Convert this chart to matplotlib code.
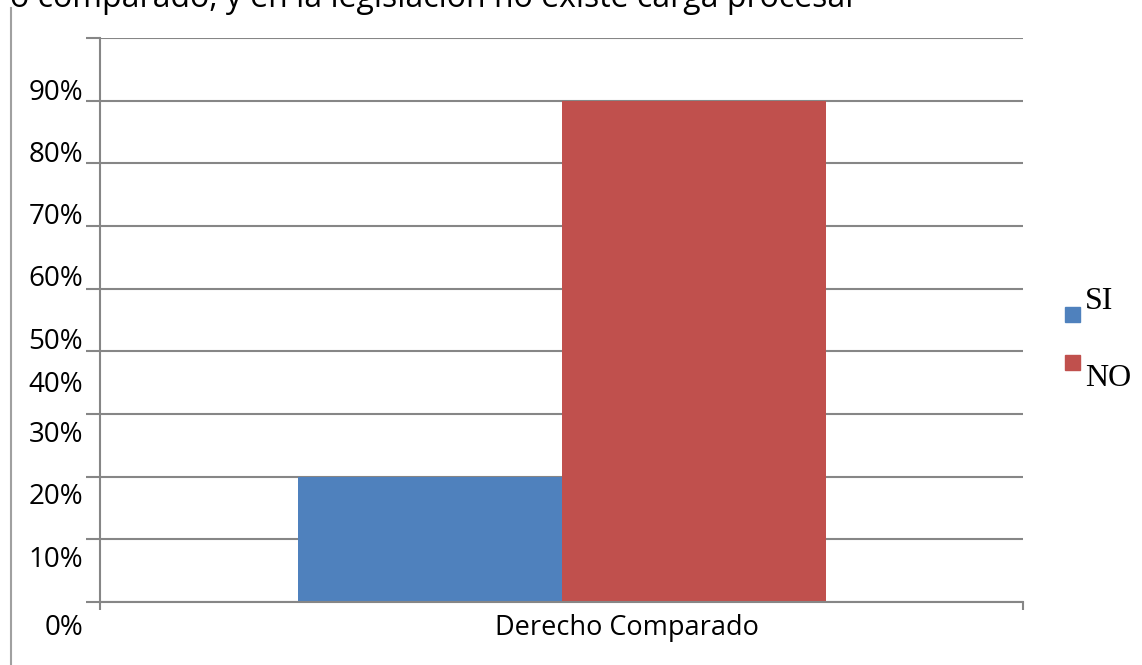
import matplotlib.pyplot as plt

# Data
category = "Derecho Comparado"
series = ["SI", "NO"]
values = [20, 80]
colors = ["#4f81bd", "#c0504d"]
tick_labels = ["0%", "10%", "20%", "30%", "40%", "50%", "60%", "70%", "80%", "90%"]
# where the (misplaced) labels sit in the original, in data units
label_y = [-4.1, 6.7, 16.8, 26.6, 34.6, 41.5, 51.5, 61.4, 71.3, 81.2]

fig = plt.figure(figsize=(11.42, 6.65), dpi=100)
ax = fig.add_axes([100 / 1142, 63 / 665, 923 / 1142, 564 / 665])

grid_c = "#868686"
ax.set_xlim(0, 1)
ax.set_ylim(0, 90)

bw = 264 / 923
for i, (name, v, c) in enumerate(zip(series, values, colors)):
    ax.bar(0.5 + (i - 0.5) * bw, v, width=bw, color=c, zorder=3)

# gridlines
ax.set_yticks(range(0, 91, 10))
ax.set_yticklabels([])
ax.grid(axis="y", color=grid_c, linewidth=1.5, zorder=1)
ax.tick_params(axis="y", length=10, width=1.5, color=grid_c)
ax.set_xticks([0, 1])
ax.set_xticklabels([])
ax.tick_params(axis="x", length=6, width=1.5, color=grid_c)
for s in ["top", "right"]:
    ax.spines[s].set_visible(False)
for s in ["left", "bottom"]:
    ax.spines[s].set_color(grid_c)
    ax.spines[s].set_linewidth(1.5)
    ax.spines[s].set_zorder(4)

for lab, y in zip(tick_labels, label_y):
    ax.text(-17 / 923, y, lab, transform=ax.get_yaxis_transform(), ha="right",
            va="center", fontsize=20, family="Open Sans", clip_on=False)

ax.text((627 - 100) / 923, -26 / 564 * 90, category, ha="center", va="center",
        fontsize=19.5, family="Open Sans", clip_on=False)

# legend
for i, (name, c) in enumerate(zip(series, colors)):
    y0 = 1 - (307 + 48 * i) / 665
    fig.patches.append(plt.Rectangle((1065 / 1142, y0 - 15 / 665), 15 / 1142, 15 / 665,
                                     transform=fig.transFigure, color=c))
ty = [1 - 301 / 665, 1 - 378 / 665]
for name, y in zip(series, ty):
    fig.text(1085 / 1142, y, name, ha="left", va="center", fontsize=23,
             family="Liberation Serif")

# page border line and cut-off text above the chart
fig.add_artist(plt.Line2D([11 / 1142, 11 / 1142], [0, 1 - 8 / 665], color="#a0a0a0", linewidth=1.5,
                          transform=fig.transFigure))
fig.text(10 / 1142, 1 - 7 / 665, "o comparado, y en la legislación no existe carga procesal",
         ha="left", va="baseline", fontsize=23, family="Open Sans")

fig.savefig("out.png", dpi=100)
